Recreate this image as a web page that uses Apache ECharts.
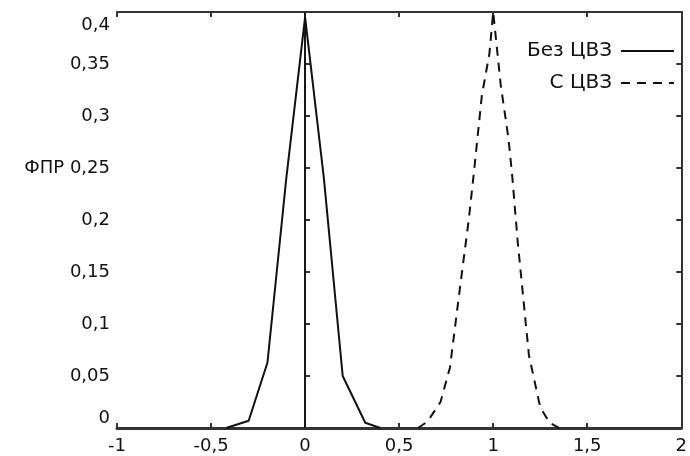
<!DOCTYPE html>
<html lang="ru">
<head>
  <meta charset="UTF-8">
  <title>ФПР</title>
  <style>
    body, html { margin: 0; padding: 0; background: #fff; }
    #main { width: 690px; height: 456px; }
  </style>
</head>
<body>
  <div id="main"></div>
</body>
<script src="https://cdn.jsdelivr.net/npm/echarts@6/dist/echarts.min.js"></script>
<script>
  // данные
  var seriesNames = ['Без ЦВЗ', 'С ЦВЗ'];
  var noWmX = [-0.42, -0.3, -0.2, -0.1, 0, 0.1, 0.2, 0.32, 0.4];
  var noWmY = [0, 0.007, 0.063, 0.24, 0.395, 0.24, 0.05, 0.005, 0];
  var wmX = [0.6, 0.65, 0.72, 0.77, 0.82, 0.87, 0.9, 0.94, 0.98, 1.0, 1.04, 1.08, 1.1, 1.13, 1.19, 1.25, 1.3, 1.35];
  var wmY = [0, 0.006, 0.025, 0.058, 0.13, 0.2, 0.25, 0.32, 0.36, 0.4, 0.33, 0.28, 0.245, 0.18, 0.07, 0.02, 0.005, 0];
  var xTicks = [-1, -0.5, 0, 0.5, 1, 1.5, 2];
  var xTickLabels = ['-1', '-0,5', '0', '0,5', '1', '1,5', '2'];
  var yTicks = [0, 0.05, 0.1, 0.15, 0.2, 0.25, 0.3, 0.35, 0.4];
  var yTickLabels = ['0', '0,05', '0,1', '0,15', '0,2', '0,25', '0,3', '0,35', '0,4'];
  var yName = 'ФПР';

  function pairs(xs, ys) {
    return xs.map(function (x, i) { return [x, ys[i]]; });
  }
  function findLabel(ticks, labels, v) {
    for (var i = 0; i < ticks.length; i++) {
      if (Math.abs(ticks[i] - v) < 1e-6) return labels[i];
    }
    return '';
  }

  var font = 'DejaVu Sans';
  var txt = '#111';
  var myChart = echarts.init(document.getElementById('main'));

  var option = {
    backgroundColor: '#fff',
    animation: false,
    grid: { left: 117, right: 5, top: 12, bottom: 28 },
    legend: {
      orient: 'vertical',
      right: 10,
      top: 36,
      align: 'right',
      itemWidth: 53,
      itemHeight: 14,
      itemGap: 12,
      selectedMode: false,
      itemStyle: { opacity: 0 },
      textStyle: { fontFamily: font, fontSize: 20, color: txt, padding: [0, 4, 0, 0] },
      data: seriesNames
    },
    xAxis: [{
      type: 'value',
      min: -1, max: 2, interval: 0.5,
      axisLine: { lineStyle: { color: '#333', width: 3 } },
      axisTick: { inside: true, length: 5, lineStyle: { color: '#333', width: 2 } },
      splitLine: { show: false },
      axisLabel: {
        margin: 9,
        fontFamily: font, fontSize: 18, color: txt,
        formatter: function (v) { return findLabel(xTicks, xTickLabels, v); }
      }
    }, {
      type: 'value', position: 'top',
      min: -1, max: 2, interval: 0.5,
      axisLine: { show: true, onZero: false, lineStyle: { color: '#333', width: 2 } },
      axisTick: { inside: true, length: 5, lineStyle: { color: '#333', width: 2 } },
      axisLabel: { show: false },
      splitLine: { show: false }
    }],
    yAxis: [{
      type: 'value',
      min: 0, max: 0.4, interval: 0.05,
      axisLine: { show: true, lineStyle: { color: '#333', width: 2 } },
      axisTick: { show: true, inside: true, length: 5, lineStyle: { color: '#333', width: 2 } },
      splitLine: { show: false },
      axisLabel: {
        margin: 7,
        fontFamily: font, fontSize: 18, color: txt,
        formatter: function (v) {
          var s = findLabel(yTicks, yTickLabels, v);
          if (Math.abs(v - 0.4) < 1e-6) return '{top|' + s + '}';
          if (Math.abs(v) < 1e-6) return '{bot|' + s + '}';
          if (Math.abs(v - 0.25) < 1e-6) return yName + ' ' + s;
          return s;
        },
        rich: {
          top: { fontFamily: font, fontSize: 18, color: txt, padding: [26, 0, 0, 0] },
          bot: { fontFamily: font, fontSize: 18, color: txt, padding: [0, 0, 20, 0] }
        }
      }
    }, {
      type: 'value', position: 'right',
      min: 0, max: 0.4, interval: 0.05,
      axisLine: { show: true, onZero: false, lineStyle: { color: '#333', width: 2 } },
      axisTick: { show: true, inside: true, length: 5, lineStyle: { color: '#333', width: 2 } },
      axisLabel: { show: false },
      splitLine: { show: false }
    }],
    series: [{
      name: seriesNames[0],
      type: 'line',
      symbol: 'none',
      color: '#111',
      lineStyle: { color: '#111', width: 2, type: 'solid' },
      data: pairs(noWmX, noWmY),
      markLine: {
        silent: true,
        symbol: 'none',
        label: { show: false },
        lineStyle: { color: '#111', width: 1.5, type: 'solid' },
        data: [{ xAxis: 0 }]
      }
    }, {
      name: seriesNames[1],
      type: 'line',
      symbol: 'none',
      color: '#111',
      lineStyle: { color: '#111', width: 2, type: [9, 7] },
      data: pairs(wmX, wmY)
    }]
  };

  myChart.setOption(option);
</script>
</html>
